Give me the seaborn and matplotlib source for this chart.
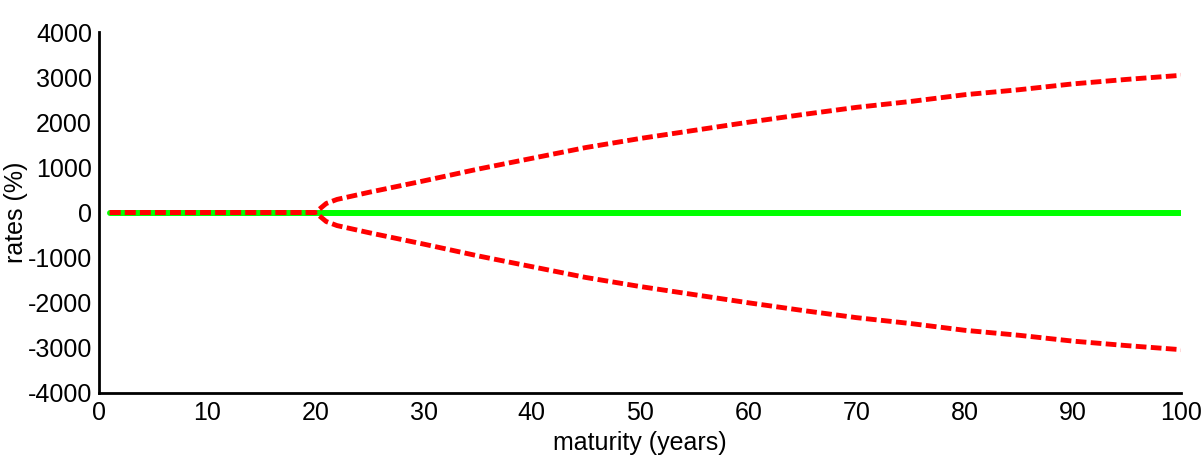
import matplotlib
matplotlib.use("Agg")
import matplotlib.pyplot as plt
import seaborn as sns
import numpy as np
import pandas as pd

# maturity (years) sample points
maturity = [1, 5, 10, 15, 20, 21, 22, 25, 30, 35, 40, 45, 50, 55, 60, 65, 70, 75, 80, 85, 90, 95, 100]
upper = [0, 0, 0, 0, 0, 200, 290, 450, 700, 960, 1200, 1440, 1640, 1820, 2000, 2170, 2330, 2460, 2610, 2720, 2850, 2950, 3040]
lower = [0, 0, 0, 0, 0, -200, -290, -450, -700, -960, -1200, -1440, -1640, -1820, -2000, -2170, -2330, -2460, -2610, -2720, -2850, -2950, -3040]
mean_x = [1, 100]
mean_y = [0, 0]

xticks = [0, 10, 20, 30, 40, 50, 60, 70, 80, 90, 100]
yticks = [-4000, -3000, -2000, -1000, 0, 1000, 2000, 3000, 4000]

sns.set_style("white")
plt.rcParams['font.family'] = ['Liberation Sans', 'DejaVu Sans']
plt.rcParams['text.color'] = 'black'
plt.rcParams['axes.labelcolor'] = 'black'

fig = plt.figure(figsize=(12.03, 4.68), dpi=100)
ax = fig.add_axes([99/1203, 1 - 393/468, (1181-99)/1203, (393-32)/468])

df_mean = pd.DataFrame({"x": mean_x, "y": mean_y})
df_up = pd.DataFrame({"x": maturity, "y": upper})
df_lo = pd.DataFrame({"x": maturity, "y": lower})

sns.lineplot(data=df_mean, x="x", y="y", ax=ax, color="#00ff00", linewidth=4.3)
for d in (df_up, df_lo):
    sns.lineplot(data=d, x="x", y="y", ax=ax, color="#ff0000", linewidth=3.5,
                 linestyle=(0, (2.2, 0.9)))

ax.set_xlim(0, 100)
ax.set_ylim(-4000, 4000)
ax.set_xticks(xticks)
ax.set_yticks(yticks)
ax.set_xticklabels([str(v) for v in xticks])
ax.set_yticklabels([str(v) for v in yticks])
ax.tick_params(axis='both', length=0, labelsize=18, colors='black')
ax.tick_params(axis='x', pad=6)
ax.tick_params(axis='y', pad=5)
for s in ("top", "right"):
    ax.spines[s].set_visible(False)
for s in ("left", "bottom"):
    ax.spines[s].set_color("black")
    ax.spines[s].set_linewidth(2.0)
ax.set_xlabel("maturity (years)", fontsize=18, labelpad=4, color='black')
ax.set_ylabel("rates (%)", fontsize=18, labelpad=0, color='black')
ax.grid(False)

fig.savefig("out.png", dpi=100)
